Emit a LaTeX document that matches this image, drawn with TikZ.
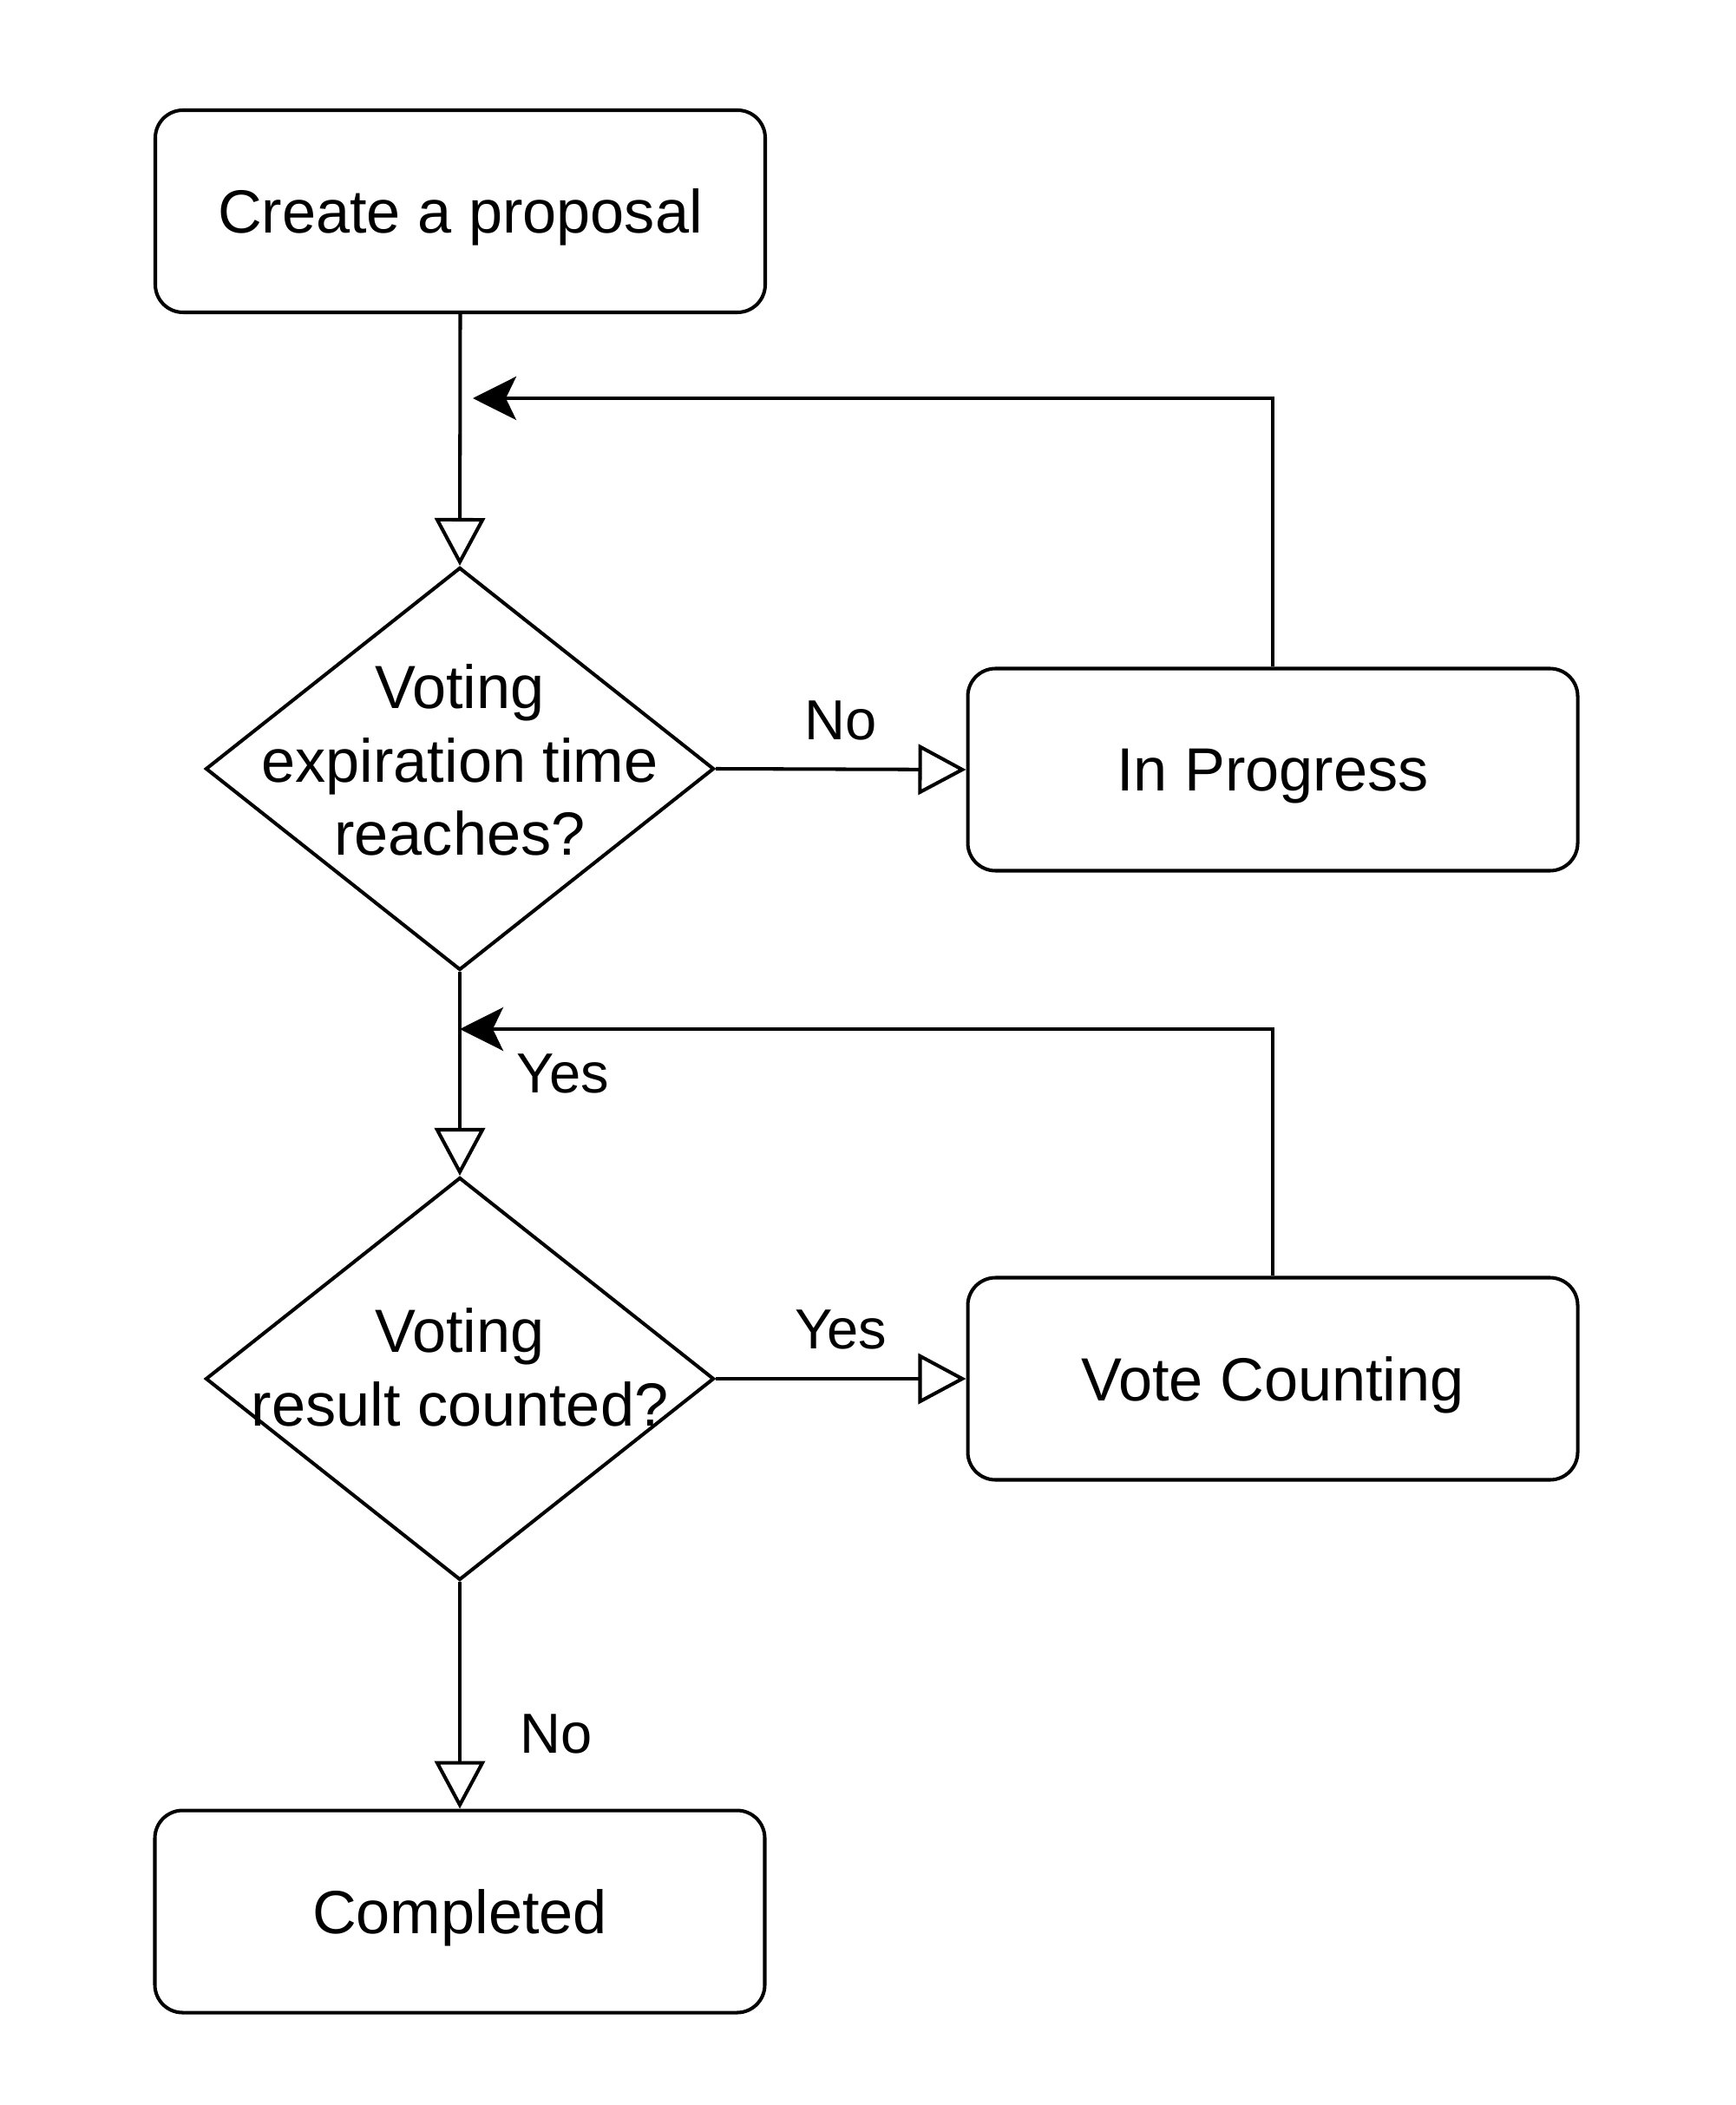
\documentclass[tikz,border=0pt]{standalone}
\usepackage{fontspec}
\setmainfont{Liberation Sans}
\usetikzlibrary{arrows.meta}
\usetikzlibrary{shapes.geometric}

\begin{document}
\begin{tikzpicture}[
	line width=1.15pt,
	box/.style={
		draw, rectangle, rounded corners=0.32cm,
		minimum width=7.03cm, minimum height=2.33cm,
		text depth=0pt,
		font=\fontsize{20}{24}\selectfont
	},
	decision/.style={
		draw, diamond, inner sep=0pt,
		minimum width=5.86cm, minimum height=4.64cm
	},
	lbl/.style={font=\fontsize{20}{24}\selectfont, align=center},
	edgelbl/.style={font=\fontsize{18.5}{22}\selectfont},
	flow/.style={-{Triangle[open, width=0.58cm, length=0.55cm]}},
	back/.style={-{Stealth[width=0.5cm, length=0.5cm, inset=0.12cm]}},
]
	\useasboundingbox (0,0) rectangle (20,-24.26);

	% main column
	\node[box] (create) at (5.305,-2.435) {Create a proposal};
	\node[decision] (expire) at (5.30,-8.86) {};
	\node[lbl] (expiretext) at ([yshift=0.1cm]expire) {Voting\\expiration time\\reaches?};
	\node[decision] (counted) at (5.30,-15.89) {};
	\node[lbl] (countedtext) at ([yshift=0.13cm]counted) {Voting\\result counted?};
	\node[box] (done) at (5.30,-22.03) {Completed};

	% states on the right
	\node[box] (progress) at (14.67,-8.87) {In Progress};
	\node[box] (counting) at (14.67,-15.89) {Vote Counting};

	\coordinate (backone) at (5.45,-4.59);
	\coordinate (backtwo) at (5.30,-11.86);

	\draw[flow]
		(create.south) -- (expire.north);
	\draw[flow]
		(expire.east) -- (progress.west) node[edgelbl, midway, above=0.2cm]
			{No};
	\draw[flow]
		(expire.south) -- (counted.north) node[edgelbl, midway, right=0.52cm]
			{Yes};
	\draw[flow]
		(counted.east) -- (counting.west) node[edgelbl, midway, above=0.2cm]
			{Yes};
	\draw[flow]
		(counted.south) -- (done.north) node[edgelbl, pos=0.67, right=0.56cm]
			{No};

	% loops back
	\draw[back]
		(progress.north) |- (backone);
	\draw[back]
		(counting.north) |- (backtwo);
\end{tikzpicture}
\end{document}
